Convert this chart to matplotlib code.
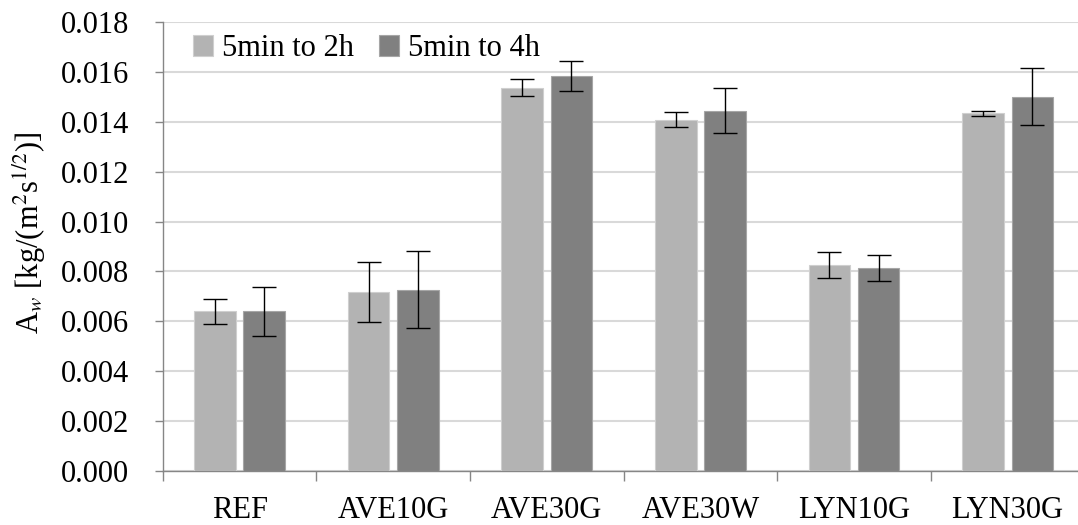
"""
Grouped bar chart of water absorption coefficient with error bars.
"""

import matplotlib

matplotlib.use("Agg")
import matplotlib.pyplot as plt
import numpy as np

plt.rcParams["font.family"] = ["Liberation Serif", "DejaVu Serif"]
plt.rcParams["mathtext.fontset"] = "stix"

categories = ["REF", "AVE10G", "AVE30G", "AVE30W", "LYN10G", "LYN30G"]
series_labels = ["5min to 2h", "5min to 4h"]
values_2h = [0.00640, 0.00716, 0.01536, 0.01409, 0.00825, 0.01434]
errors_2h = [0.00050, 0.00120, 0.00034, 0.00029, 0.00052, 0.00011]
values_4h = [0.00640, 0.00727, 0.01584, 0.01445, 0.00814, 0.01501]
errors_4h = [0.00098, 0.00155, 0.00060, 0.00091, 0.00052, 0.00114]
y_ticks = np.arange(0, 0.0181, 0.002)

fig = plt.figure(figsize=(10.78, 5.25), dpi=100)
ax = fig.add_axes([0.151, 0.103, 0.855, 0.855])

x = np.arange(len(categories))
width = 0.27
offset = 0.16
err_kw = dict(ecolor="black", elinewidth=1.0, capsize=8.5, capthick=1.0)

ax.bar(
    x - offset,
    values_2h,
    width,
    yerr=errors_2h,
    color="#b3b3b3",
    edgecolor="#cfcfcf",
    linewidth=0.8,
    label=series_labels[0],
    error_kw=err_kw,
    zorder=3,
)
ax.bar(
    x + offset,
    values_4h,
    width,
    yerr=errors_4h,
    color="#808080",
    edgecolor="#a6a6a6",
    linewidth=0.8,
    label=series_labels[1],
    error_kw=err_kw,
    zorder=3,
)

ax.set_xlim(-0.5, len(categories) - 0.5)
ax.set_ylim(0, 0.018)
ax.set_yticks(y_ticks)
ax.set_yticklabels([f"{v:.3f}" for v in y_ticks])
ax.yaxis.grid(True, color="#d9d9d9", linewidth=1.5, zorder=0)
ax.set_axisbelow(True)

# category labels in the middle, tick marks on the boundaries
ax.set_xticks(x)
ax.set_xticklabels(categories)
ax.set_xticks(np.arange(len(categories) + 1) - 0.5, minor=True)
ax.tick_params(axis="x", which="major", length=0, pad=18, labelsize=22)
ax.tick_params(
    axis="x", which="minor", length=7, width=1.0, color="#868686", direction="out"
)
ax.tick_params(
    axis="y", length=6, width=1.0, color="#868686", pad=18, labelsize=22
)

for side in ("top", "right"):
    ax.spines[side].set_visible(False)
for side in ("left", "bottom"):
    ax.spines[side].set_color("#868686")
    ax.spines[side].set_linewidth(1.0)

ax.set_ylabel(r"A$_{w}$ [kg/(m$^{2}$s$^{1/2}$)]", fontsize=22)
ax.yaxis.set_label_coords(-0.125, 0.53)

ax.legend(
    loc="upper left",
    bbox_to_anchor=(0.02, 1.0),
    ncol=2,
    frameon=False,
    fontsize=22,
    handlelength=0.65,
    handleheight=0.65,
    handletextpad=0.3,
    columnspacing=0.8,
    borderaxespad=0.0,
)

fig.savefig("out.png", dpi=100)
